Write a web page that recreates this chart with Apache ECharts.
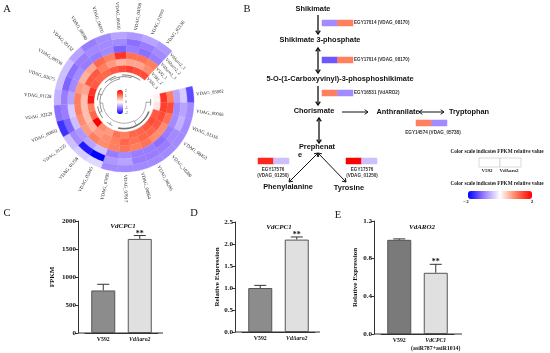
<!DOCTYPE html>
<html><head><meta charset="utf-8">
<style>html,body{margin:0;padding:0;background:#fff}#c{width:550px;height:353px}</style>
<script src="https://cdn.jsdelivr.net/npm/echarts@6/dist/echarts.min.js"></script>
</head><body><div id="c"></div>
<script>
// ---------- data ----------
const geneLabels = ['VDAG_05802','VDAG_00066','VDAG_01316','VDAG_08453','VDAG_10200','VDAG_08206','VDAG_08964','VDAG_07917','VDAG_07695','VDAG_02845','VDAG_01258','VDAG_01255','VDAG_00802','VDAG_02229','VDAG_01128','VDAG_02675','VDAG_09530','VDAG_05152','VDAG_08580','VDAG_06000','VDAG_06430','VDAG_04700','VDAG_01999','VDAG_02136'];
const sampleLabels = ['V592_3','V592_2','V592_1','VdΔaro2_3','VdΔaro2_2','VdΔaro2_1'];
// rows: one gene; columns: ring from inner to outer
const geneValues = [
 [0.1,1.6,1.0,-0.7,-0.4,-1.4],[0.2,1.5,1.4,-0.9,-0.7,-0.9],[1.3,1.4,1.1,-0.9,-0.6,-0.9],[1.4,1.3,0.9,-1.0,-0.9,-0.9],
 [1.3,1.2,0.9,-1.1,-1.0,-0.9],[1.2,1.2,1.1,-1.0,-1.0,-0.9],[1.2,1.1,1.0,-1.0,-1.0,-0.9],[1.0,1.2,1.1,-0.9,-0.7,-0.9],
 [1.1,1.0,1.0,-1.0,-0.8,-0.9],[0.8,0.9,0.9,-0.5,-2.0,-0.3],[0.9,0.8,1.0,-0.7,-1.8,-0.4],[2.0,0.6,0.8,-0.8,-0.9,-0.5],
 [1.2,0.5,0.9,-0.5,-1.2,-1.6],[1.0,0.5,1.0,-0.4,-1.0,-1.1],[1.8,0.5,1.0,-0.7,-1.0,-0.6],[1.6,0.7,0.8,-0.9,-1.2,-0.5],
 [1.3,1.3,0.6,-0.9,-1.1,-0.5],[1.2,1.3,0.7,-1.0,-1.0,-0.7],[1.2,1.0,1.2,-1.0,-0.9,-1.0],[1.3,0.8,1.0,-0.9,-0.9,-0.9],
 [1.4,0.6,1.6,-1.2,-0.9,-0.7],[1.5,0.7,1.1,-1.0,-1.1,-0.8],[1.4,0.7,1.1,-1.1,-1.0,-0.7],[1.4,0.9,1.0,-1.0,-0.9,-0.8]
];
// dendrogram: [pos0, radius0, pos1, radius1, line colour]
const treeSegments = [
 [0.5,4.0,1.5,4.0,'#333'],[2.5,4.05,8.5,4.05,'#222'],[2.5,3.95,8.5,3.95,'#222'],[9.5,3.95,10.5,3.95,'#333'],[11.5,4.0,13.5,4.0,'#222'],[14.5,4.0,16.5,4.0,'#222'],
 [17.5,4.05,19.5,4.05,'#222'],[20.5,4.05,23.5,4.05,'#222'],[18.5,3.8,22,3.8,'#444'],[12.5,3.6,15.5,3.6,'#444'],[15.5,3.5,20,3.5,'#555'],
 [1,3.3,5.5,3.3,'#777'],[5.5,3.2,14,3.2,'#777'],[1,3.3,1,4.0,'#555'],[5.5,3.2,5.5,3.95,'#555'],[10,3.6,10,3.95,'#555'],[12.5,3.6,12.5,4.0,'#444'],
 [15.5,3.5,15.5,4.0,'#444'],[18.5,3.8,18.5,4.05,'#444'],[22,3.8,22,4.05,'#444'],[20,3.5,20,3.8,'#555'],[14,3.2,14,3.6,'#666']
];
const enzymeLabels = ['EGY17014 (VDAG_08170)','EGY17014 (VDAG_08170)','EGY16531 (VdARO2)','EGY14574 (VDAG_05738)','EGY17576\n(VDAG_01250)','EGY17576\n(VDAG_01250)'];
const enzymeV592 = [-0.9,-1.3,1.0,1.0,1.7,2.0];
const enzymeMutant = [1.0,1.0,-0.9,-0.9,-0.5,-0.5];
const sampleNames = ['V592','VdΔaro2'];
const fpkmValues = [760,1680], fpkmTops = [870,1740], fpkmSig = ['','**'];
const exprCValues = [1.0,2.1], exprCTops = [1.06,2.16], exprCSig = ['','**'];
const exprEValues = [1.0,0.65], exprETops = [1.01,0.74], exprESig = ['','**'];
const panelECategories = ['V592','VdCPC1'];
const scaleTicks = ['2','1','0','-1','-2'];

// ---------- helpers ----------
const SERIF='"Liberation Serif","DejaVu Serif",serif', SANS='"Liberation Sans",Arial,sans-serif';
const palette=['#0000ff','#9a7dff','#ffffff','#ff7f5f','#ff0000'];
const RING0=4.5, ringW=1;
function T(x,y,text,size,o={}){return {type:'text',x,y,rotation:o.rot||0,silent:true,style:{text,fill:o.fill||'#111',font:(o.italic?'italic ':'')+(o.weight||'bold')+' '+size+'px '+(o.family||SANS),align:o.align||'center',verticalAlign:'middle',lineHeight:o.lh}};}
function arrow(x1,y1,x2,y2,both,w=1.3,h=4){
  const a=Math.atan2(y2-y1,x2-x1),out=[{type:'line',silent:true,shape:{x1,y1,x2,y2},style:{stroke:'#111',lineWidth:w}}];
  const head=(x,y,ang)=>({type:'polyline',silent:true,shape:{points:[[x-h*Math.cos(ang-0.6),y-h*Math.sin(ang-0.6)],[x,y],[x-h*Math.cos(ang+0.6),y-h*Math.sin(ang+0.6)]]},style:{stroke:'#111',fill:null,lineWidth:w}});
  out.push(head(x2,y2,a)); if(both) out.push(head(x1,y1,a+Math.PI)); return out;
}
function ringItem(params,api){
  const p=api.value(0),k=api.value(1),col=api.visual('color'),pts=[];
  const r0=RING0+k*ringW,r1=r0+ringW;
  for(let t=0;t<=6;t++)pts.push(api.coord([r0,p+t/6]));
  for(let t=6;t>=0;t--)pts.push(api.coord([r1,p+t/6]));
  return {type:'polygon',shape:{points:pts},style:{fill:col,stroke:col,lineWidth:0.3}};
}
function treeItem(params,api){
  const pts=[];
  const a=api.value(0),r=api.value(1),b=api.value(2),s=api.value(3);
  for(let t=0;t<=10;t++)pts.push(api.coord([r+(s-r)*t/10,a+(b-a)*t/10]));
  return {type:'polyline',shape:{points:pts},style:{stroke:treeSegments[params.dataIndex][4],fill:null,lineWidth:0.6}};
}
const startDeg=77, stepDeg=13.6;
function geneLabelItem(params,api){
  const i=api.value(0),pt=api.coord([10.9,i+0.5]);
  const theta=startDeg+stepDeg*(i+0.5),right=(theta%360)<180;
  const rot=(right?90-theta:270-theta)*Math.PI/180;
  return {type:'text',x:pt[0],y:pt[1],rotation:rot,style:{text:geneLabels[i],fill:'#222',font:'4.7px '+SERIF,align:right?'left':'right',verticalAlign:'middle'}};
}
function sampleLabelItem(params,api){
  const i=api.value(0),pt=api.coord([RING0+i+0.5,24.05]);
  return {type:'text',x:pt[0],y:pt[1],rotation:-46*Math.PI/180,style:{text:sampleLabels[i],fill:'#333',font:'4.5px '+SERIF,align:'left',verticalAlign:'middle'}};
}
function errItem(params,api){
  const c=api.coord([api.value(0),api.value(1)]),t=api.coord([api.value(0),api.value(2)]);
  const sig=api.value(3), kids=[
   {type:'line',shape:{x1:c[0],y1:c[1],x2:t[0],y2:t[1]},style:{stroke:'#333',lineWidth:1}},
   {type:'line',shape:{x1:t[0]-6,y1:t[1],x2:t[0]+6,y2:t[1]},style:{stroke:'#333',lineWidth:1}}];
  if(sig) kids.push({type:'text',x:t[0],y:t[1]-2,style:{text:sig,fill:'#111',font:'bold 8px '+SERIF,align:'center',verticalAlign:'middle'}});
  return {type:'group',children:kids};
}

// ---------- bar panels ----------
const grid=[],xAxis=[],yAxis=[],series=[],graphic=[];
function barPanel(cfg){
  const g=grid.length;
  grid.push({left:cfg.left,top:cfg.top,width:73,height:cfg.h,containLabel:false});
  xAxis.push({gridIndex:g,type:'category',data:cfg.cats,axisTick:{show:false},axisLine:{lineStyle:{color:'#333',width:1}},
    axisLabel:{interval:0,margin:3,color:'#111',fontFamily:SERIF,fontSize:5.8,fontWeight:'bold',lineHeight:8,formatter:cfg.fmt||(v=>v==='V592'?'{n|'+v+'}':'{i|'+v+'}'),
      rich:{n:{fontFamily:SERIF,fontSize:5.8,fontWeight:'bold',color:'#111',lineHeight:8},i:{fontFamily:SERIF,fontSize:5.8,fontWeight:'bold',fontStyle:'italic',color:'#111',lineHeight:8}}}});
  yAxis.push({gridIndex:g,type:'value',min:0,max:cfg.max,interval:cfg.step,offset:cfg.off,name:cfg.name,nameLocation:'middle',nameGap:cfg.gap,
    nameTextStyle:{fontFamily:SERIF,fontSize:7,fontWeight:'bold',color:'#111'},
    axisLine:{show:true,lineStyle:{color:'#333',width:1}},axisTick:{show:true,length:3,lineStyle:{color:'#333'}},splitLine:{show:false},
    axisLabel:{margin:2,color:'#111',fontFamily:SERIF,fontSize:7,fontWeight:'bold',formatter:cfg.lab}});
  series.push({type:'bar',xAxisIndex:g,yAxisIndex:g,barWidth:24,silent:true,animation:false,
    data:cfg.vals.map((v,i)=>({value:v,itemStyle:{color:i?'#e0e0e0':cfg.dark,borderColor:'#555',borderWidth:1}}))});
  series.push({type:'custom',xAxisIndex:g,yAxisIndex:g,silent:true,animation:false,clip:false,renderItem:errItem,
    encode:{x:0,y:1},data:cfg.vals.map((v,i)=>[i,v,cfg.tops[i],cfg.sig[i]])});
  // x baseline extends a little beyond the plot on both sides
  graphic.push({type:'line',silent:true,shape:{x1:cfg.left-cfg.off,y1:cfg.top+cfg.h,x2:cfg.xEnd,y2:cfg.top+cfg.h},style:{stroke:'#333',lineWidth:1}});
  graphic.push(T(cfg.titleX,cfg.titleY,cfg.title,7,{family:SERIF,italic:true}));
}
barPanel({left:85,top:221,h:112,off:7,xEnd:163,cats:sampleNames,max:2000,step:500,name:'FPKM',gap:22,lab:v=>String(v),vals:fpkmValues,tops:fpkmTops,sig:fpkmSig,dark:'#8c8c8c',title:'VdCPC1',titleX:123,titleY:226});
barPanel({left:242,top:222,h:110,off:7,xEnd:320,cats:sampleNames,max:2.5,step:0.5,name:'Relative Expression',gap:14,lab:v=>v.toFixed(1),vals:exprCValues,tops:exprCTops,sig:exprCSig,dark:'#8c8c8c',title:'VdCPC1',titleX:279,titleY:227});
barPanel({left:381,top:221,h:113,off:7,xEnd:462,cats:panelECategories,max:1.2,step:0.4,name:'Relative Expression',gap:15,lab:v=>v.toFixed(1),vals:exprEValues,tops:exprETops,sig:exprESig,dark:'#7a7a7a',title:'VdARO2',titleX:422,titleY:227,
  fmt:v=>v==='V592'?'{n|V592}':'{i|VdCPC1}\n{n|(asiR787+asiR1014)}'});

// ---------- enzyme strips (small heatmaps) ----------
const stripBoxes=[[322,20],[322,57],[322,90],[416,120],[258,158],[346,158]];
const firstStrip=series.length;
stripBoxes.forEach((b,i)=>{
  const g=grid.length;
  grid.push({left:b[0],top:b[1],width:31,height:6});
  xAxis.push({gridIndex:g,type:'category',data:sampleNames,show:false});
  yAxis.push({gridIndex:g,type:'category',data:['x'],show:false});
  series.push({type:'heatmap',xAxisIndex:g,yAxisIndex:g,silent:true,animation:false,data:[[0,0,enzymeV592[i]],[1,0,enzymeMutant[i]]]});
});
const stripSeries=stripBoxes.map((_,i)=>firstStrip+i);

// ---------- circular heatmap ----------
const ringData=[];
geneValues.forEach((row,g)=>row.forEach((v,k)=>ringData.push([g,k,v])));
const ringSeries=series.length;
series.push({type:'custom',coordinateSystem:'polar',silent:true,animation:false,clip:false,renderItem:ringItem,encode:{angle:0,radius:1},data:ringData});
series.push({type:'custom',coordinateSystem:'polar',silent:true,animation:false,clip:false,renderItem:treeItem,encode:{angle:0,radius:1},data:treeSegments.map(s=>s.slice(0,4))});
series.push({type:'custom',coordinateSystem:'polar',silent:true,animation:false,clip:false,renderItem:geneLabelItem,encode:{angle:0},data:geneLabels.map((_,i)=>[i,0])});
series.push({type:'custom',coordinateSystem:'polar',silent:true,animation:false,clip:false,renderItem:sampleLabelItem,encode:{angle:0},data:sampleLabels.map((_,i)=>[i,0])});

// ---------- static text & arrows ----------
const P=7.4;
[[7,9,'A'],[247,9,'B'],[7,213,'C'],[194,213,'D'],[338,215,'E']].forEach(a=>graphic.push(T(a[0],a[1],a[2],10.5,{family:SERIF,weight:'normal'})));
[[313,9,'Shikimate'],[320,40,'Shikimate 3-phosphate'],[340,79,'5-O-(1-Carboxyvinyl)-3-phosphoshikimate'],[314,111,'Chorismate'],[398,112,'Anthranilate'],[469,112,'Tryptophan'],[317,147,'Prephenat'],[288,187,'Phenylalanine'],[349,188,'Tyrosine']]
 .forEach(a=>graphic.push(T(a[0],a[1],a[2],P)));
graphic.push(T(298,155,'e',P,{align:'left'}));
graphic.push(...arrow(318,15,318,34,false),...arrow(318,48,318,73,true),...arrow(318,86,318,105,false),...arrow(342,112,368,112,false,1),...arrow(419,112,444,112,true,1),...arrow(319,118,319,143,true),...arrow(318,153,289,182,true,1),...arrow(318,153,346,182,true,1));
const eLab=(x,y,t,al)=>graphic.push(T(x,y,t,4.6,{align:al||'center',fill:'#333',lh:6}));
eLab(354,23,enzymeLabels[0],'left');eLab(354,60,enzymeLabels[1],'left');eLab(354,93,enzymeLabels[2],'left');
eLab(433,133,enzymeLabels[3]);eLab(273,173,enzymeLabels[4]);eLab(362,173,enzymeLabels[5]);
const lg={family:SERIF,fill:'#222'};
graphic.push(T(497,152,'Color scale indicates FPKM relative value',5.2,lg),T(497,184,'Color scale indicates FPKM relative value',5.2,lg));
graphic.push({type:'rect',silent:true,shape:{x:479,y:158,width:21,height:9},style:{fill:'#fff',stroke:'#ccc',lineWidth:0.7}},{type:'rect',silent:true,shape:{x:500,y:158,width:21,height:9},style:{fill:'#fff',stroke:'#ccc',lineWidth:0.7}});
graphic.push(T(487,171,'V592',5,lg),T(509,171,'VdΔaro2',5,lg),T(466,202,'−2',5,lg),T(532,202,'2',5,lg));
scaleTicks.forEach((t,i)=>graphic.push(T(125,91+i*5.6,t,3.2,{align:'left',weight:'normal',fill:'#555'})));

const chart=echarts.init(document.getElementById('c'),null,{renderer:'canvas'});
chart.setOption({
  animation:false,backgroundColor:'#fff',
  grid,xAxis,yAxis,series,
  polar:{center:[124,102],radius:[0,70]},
  radiusAxis:{type:'value',min:0,max:10.5,show:false,axisLine:{show:false},axisTick:{show:false},axisLabel:{show:false},splitLine:{show:false}},
  angleAxis:{type:'value',min:0,max:360/stepDeg,startAngle:90-startDeg,clockwise:true,show:false,axisLine:{show:false},axisTick:{show:false},axisLabel:{show:false},splitLine:{show:false}},
  visualMap:[
    {type:'continuous',seriesIndex:ringSeries,dimension:2,min:-2,max:2,inRange:{color:palette},orient:'vertical',left:117,top:90,itemWidth:6,itemHeight:24,padding:0,calculable:false,hoverLink:false,text:null,textStyle:{fontSize:1,color:'transparent'}},
    {type:'continuous',seriesIndex:stripSeries,dimension:2,min:-2,max:2,inRange:{color:palette},orient:'horizontal',left:468,top:191,itemWidth:8,itemHeight:64,padding:0,calculable:false,hoverLink:false,text:null,textStyle:{fontSize:1,color:'transparent'}}
  ],
  graphic:{elements:graphic}
});
</script></body></html>
